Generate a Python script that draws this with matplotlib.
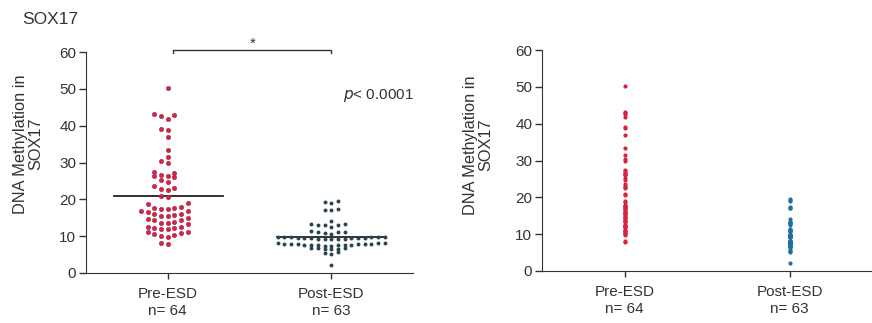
import numpy as np
import matplotlib.pyplot as plt

plt.rcParams['font.family'] = ['Liberation Sans', 'DejaVu Sans']

groups = ['Pre-ESD\nn= 64', 'Post-ESD\nn= 63']

pre_esd = [50.1, 43.1, 42.9, 42.7, 41.8, 39.1, 38.7, 36.8, 33.4, 31.5, 30.5, 29.8,
           27.3, 27.1, 26.6, 26.4, 26.2, 26.0, 25.3, 24.8,
           23.6, 23.2, 22.7, 22.4, 20.9, 20.7, 18.9, 18.7,
           17.8, 17.7, 17.6, 17.5, 17.4, 16.9, 16.8, 16.6,
           16.0, 15.9, 15.8, 15.6, 15.5, 14.8, 14.6, 14.5, 14.3,
           13.8, 13.6, 13.5, 13.3, 12.6, 12.5, 12.3, 12.2, 12.0, 11.9,
           11.2, 11.0, 10.8, 10.6, 10.2, 10.0, 9.8, 8.1, 7.9]

post_esd = [19.5, 19.2, 18.9, 17.3, 17.1, 17.0, 14.0,
            13.3, 13.2, 13.1, 13.0, 12.9, 12.6,
            11.4, 11.2, 11.1, 11.0, 10.9, 10.7,
            9.9, 9.9, 9.8, 9.8, 9.7, 9.7, 9.6, 9.6, 9.5, 9.5, 9.4, 9.4, 9.3, 9.3, 9.2, 9.2, 9.1,
            8.2, 8.1, 8.1, 8.0, 8.0, 7.9, 7.9, 7.8, 7.8, 7.7, 7.7, 7.6, 7.6, 7.5, 7.5, 7.4, 7.4,
            6.9, 6.8, 6.7, 6.6, 6.5, 6.4, 5.6, 5.4, 5.2, 2.2]


def swarm_x(values, center, bin_h, step=0.041):
    # Prism-style rows: group close values, spread them 0, -1, +1, -2, +2 ...
    vals = np.array(values)
    order = np.argsort(vals)
    xs = np.zeros(len(vals))
    row = []
    start = None
    for i in list(order) + [None]:
        if i is None or (start is not None and vals[i] > start + bin_h):
            for k, j in enumerate(row):
                off = (k + 1) // 2 * (1 if k % 2 == 0 else -1)
                xs[j] = center + off * step
            row = []
            start = None
        if i is not None:
            if start is None:
                start = vals[i]
            row.append(i)
    return xs


red = '#d8233f'
red_edge = '#a02a55'
dark = '#2b4452'
blue = '#1f6fa3'
ink = '#333333'

fig = plt.figure(figsize=(8.72, 3.23), dpi=100)
ax1 = fig.add_axes([86 / 872, 50 / 323, 327 / 872, 221 / 323])
ax2 = fig.add_axes([542 / 872, 52 / 323, 330 / 872, 221 / 323])

# left panel: dot plot with mean lines
ax1.scatter(swarm_x(pre_esd, 0, 1.5), pre_esd, s=10, color=red, edgecolors=red_edge, linewidths=0.4, zorder=3)
ax1.scatter(swarm_x(post_esd, 1, 0.9), post_esd, s=8, color=dark, linewidths=0, zorder=3)
ax1.plot([-0.33, 0.34], [np.mean(pre_esd)] * 2, color='#222222', lw=1.3, zorder=2)
ax1.plot([0.67, 1.33], [np.mean(post_esd)] * 2, color='#222222', lw=1.3, zorder=2)

# significance bracket
ax1.plot([0.03, 0.03, 1.0, 1.0], [59.8, 60.6, 60.6, 59.8], color=ink, lw=1, clip_on=False)
ax1.text(0.52, 62.2, '*', ha='center', va='center', fontsize=11, color=ink)
ax1.text(1.07, 48.1, r'$p$< 0.0001', ha='left', va='center', fontsize=11, color=ink)
fig.text(22 / 872, 1 - 20 / 323, 'SOX17', ha='left', va='center', fontsize=12.5, color=ink)

# right panel: plain columns
ax2.scatter([0] * len(pre_esd), pre_esd, s=9, color=red, linewidths=0, zorder=3)
ax2.scatter([1] * len(post_esd), post_esd, s=9, color=blue, linewidths=0, zorder=3)

for ax, lx, ly in [(ax1, -0.131, 0.584), (ax2, -0.148, 0.57)]:
    ax.set_xlim(-0.5, 1.5)
    ax.set_ylim(0, 60)
    ax.set_yticks([0, 10, 20, 30, 40, 50, 60])
    ax.set_xticks([0, 1])
    ax.set_xticklabels(groups, fontsize=11, color=ink, linespacing=1.25)
    ax.tick_params(axis='y', labelsize=11, colors=ink, length=5, width=1, pad=2)
    ax.tick_params(axis='x', length=4, width=1, colors=ink, pad=6)
    ax.spines['top'].set_visible(False)
    ax.spines['right'].set_visible(False)
    ax.spines['left'].set_color(ink)
    ax.spines['bottom'].set_color(ink)
    ax.set_ylabel('DNA Methylation in\nSOX17', fontsize=11.8, color=ink, linespacing=1.05)
    ax.yaxis.set_label_coords(lx, ly)

plt.savefig('out.png', dpi=100)
